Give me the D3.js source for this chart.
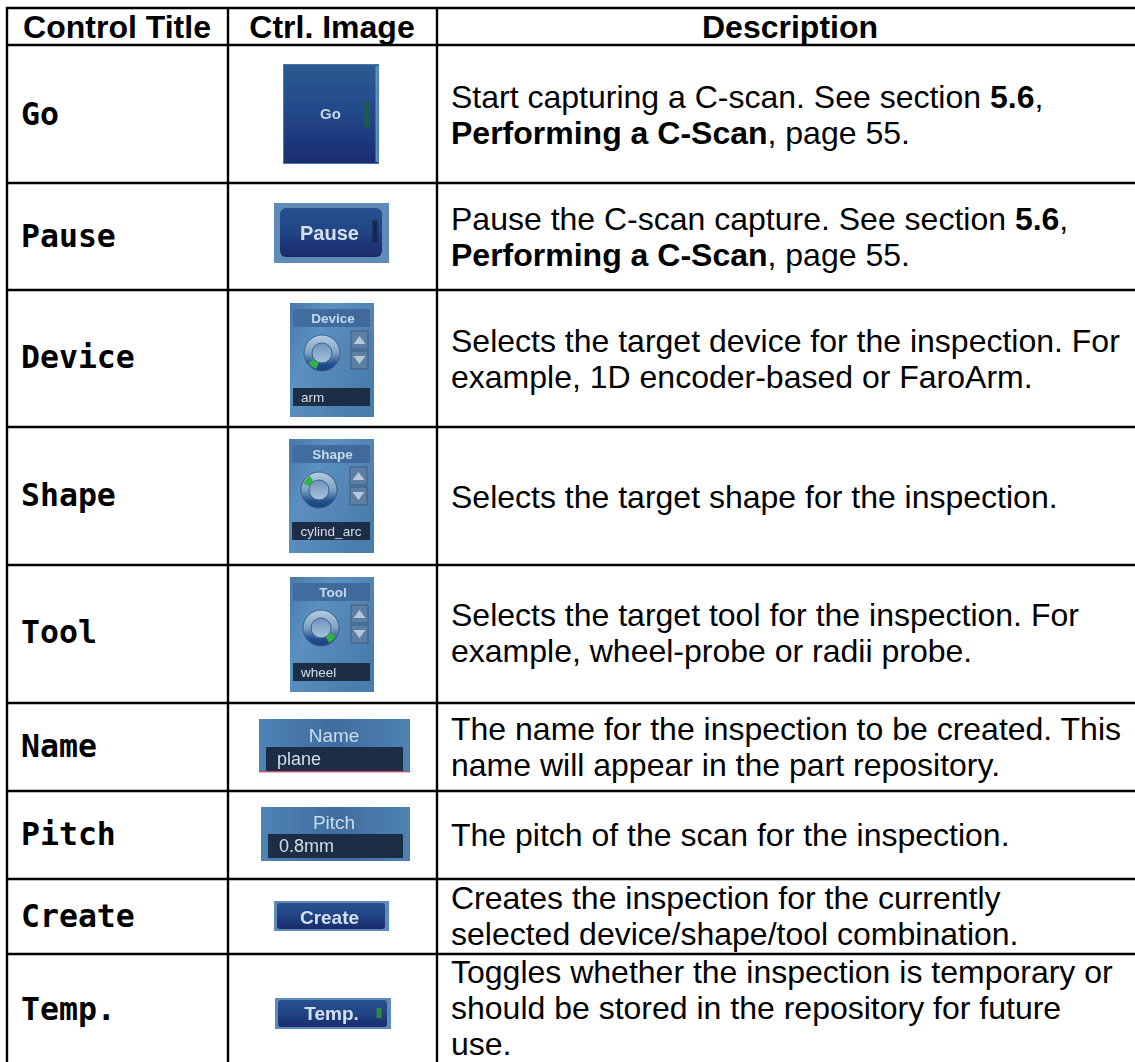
<!DOCTYPE html>
<html>
<head>
<meta charset="utf-8">
<script src="https://cdn.jsdelivr.net/npm/d3@7"></script>
<style>
body{margin:0;background:#fff;}
svg{display:block;}
</style>
</head>
<body>
<div id="root"></div>
<script>
// table content
var headers=['Control Title','Ctrl. Image','Description'];
var titles=['Go','Pause','Device','Shape','Tool','Name','Pitch','Create','Temp.'];
// * toggles bold
var descriptions=[
	['Start capturing a C-scan. See section *5.6*,','*Performing a C-Scan*, page 55.'],
	['Pause the C-scan capture. See section *5.6*,','*Performing a C-Scan*, page 55.'],
	['Selects the target device for the inspection. For','example, 1D encoder-based or FaroArm.'],
	['Selects the target shape for the inspection.'],
	['Selects the target tool for the inspection. For','example, wheel-probe or radii probe.'],
	['The name for the inspection to be created. This','name will appear in the part repository.'],
	['The pitch of the scan for the inspection.'],
	['Creates the inspection for the currently','selected device/shape/tool combination.'],
	['Toggles whether the inspection is temporary or','should be stored in the repository for future','use.']
];
var panelValues=['arm','cylind_arc','wheel'];
var fieldValues=['plane','0.8mm'];

// layout of the grid
var W=1135,H=1062;
var colEdges=[7,228,437,W];
var rowEdges=[8,45,183,290,427,565,703,791,879,954,H+10];
var titleBase=[125,247,368,506,643,757,845,927,1020];
var descBase=[108,230,352,508,626,740,846,909,983];
var lineStep=36;

var svg=d3.select('#root').append('svg').attr('width',W).attr('height',H);
var defs=svg.append('defs');

function grad(id,stops,x2,y2){
	var g=defs.append('linearGradient').attr('id',id).attr('x1',0).attr('y1',0).attr('x2',x2).attr('y2',y2);
	stops.forEach(function(s){g.append('stop').attr('offset',s[0]).attr('stop-color',s[1])});
}
grad('btn',[[0,'#2c5a92'],[.45,'#234a8a'],[1,'#1a2c72']],0,1);
grad('btnIn',[[0,'#28528f'],[.5,'#214384'],[1,'#1a2a6c']],0,1);
grad('panel',[[0,'#4a79a8'],[.35,'#5b90bf'],[1,'#4b7cae']],1,.6);
grad('band',[[0,'#3f6f9f'],[1,'#42689a']],1,0);
grad('wide',[[0,'#4f84b4'],[.5,'#3f6c9e'],[1,'#4f82b2']],1,0);
grad('ring',[[0,'#b5cde0'],[.5,'#7da2c4'],[.8,'#23508e'],[1,'#1b3f7a']],0,1);
grad('hub',[[0,'#6f93bb'],[1,'#a8c2dc']],0,1);
defs.append('filter').attr('id','soft').append('feGaussianBlur').attr('stdDeviation',.55);

var colX=d3.scaleOrdinal().domain(d3.range(3)).range(colEdges);
var rowY=d3.scaleOrdinal().domain(d3.range(rowEdges.length)).range(rowEdges);

// grid
var grid=svg.append('g').attr('stroke','#000').attr('stroke-width',2.4);
grid.selectAll('.h').data(rowEdges.slice(0,-1)).enter().append('line').attr('class','h')
	.attr('x1',colEdges[0]-1).attr('x2',W).attr('y1',function(d){return d}).attr('y2',function(d){return d});
grid.selectAll('.v').data(d3.range(3)).enter().append('line').attr('class','v')
	.attr('x1',function(d){return colX(d)}).attr('x2',function(d){return colX(d)})
	.attr('y1',rowEdges[0]-1).attr('y2',H);

// header
var headerMid=[117,332,790];
svg.selectAll('.head').data(headers).enter().append('text').attr('class','head')
	.attr('x',function(d,i){return headerMid[i]}).attr('y',38)
	.attr('text-anchor','middle')
	.style('font','bold 32px "Liberation Sans"').text(function(d){return d});

// first column
svg.selectAll('.title').data(titles).enter().append('text').attr('class','title')
	.attr('x',21).attr('y',function(d,i){return titleBase[i]})
	.style('font','bold 31.5px "DejaVu Sans Mono"').text(function(d){return d});

// last column
descriptions.forEach(function(lines,r){
	lines.forEach(function(line,l){
		var t=svg.append('text').attr('x',451).attr('y',descBase[r]+l*lineStep)
			.style('font','32px "Liberation Sans"');
		line.split('*').forEach(function(run,k){
			if(run){t.append('tspan').attr('font-weight',k%2?'bold':'normal').text(run)}
		});
	});
});

// control images, each one drawn in its own cell
function cell(r){
	var cx=(colEdges[1]+colEdges[2])/2, cy=(rowY(r+1)+rowY(r+2))/2;
	return svg.append('g').attr('transform','translate('+cx+','+cy+')').attr('filter','url(#soft)');
}
function label(g,s,x,y,size,weight,color,anchor){
	return g.append('text').attr('x',x).attr('y',y).attr('fill',color).attr('text-anchor',anchor||'middle')
		.style('font',(weight||'normal')+' '+size+'px "Liberation Sans"').text(s);
}
function rect(g,x,y,w,h,fill,rx){
	return g.append('rect').attr('x',x).attr('y',y).attr('width',w).attr('height',h).attr('fill',fill).attr('rx',rx||0);
}

function button(r,b,txt,size,tx,ty,led){
	var g=cell(r);
	rect(g,b.x,b.y,b.w,b.h,'#5f8bb8');
	rect(g,b.x+b.i,b.y+b.t,b.w-b.i-b.e,b.h-b.t-b.b,'url(#btnIn)',b.i);
	label(g,txt,tx,ty,size,'bold','#d3e0ee');
	if(led){rect(g,led[0],led[1],led[2],led[3],led[4])}
}

var go=cell(0);
rect(go,-49.5,-50,96,100,'#4d78ab');
rect(go,-48.5,-49,94,98,'url(#btn)');
rect(go,43,-48,2.5,96,'#5f8cbc');
label(go,'Go',-2,5,15,'bold','#c4d4e6');
rect(go,31,-12,6,25,'#1f5a52');

button(1,{x:-58.5,y:-33.5,w:115,h:60,i:6,e:7,t:5,b:6},'Pause',20,-3,3,[40,-16,5,22,'#16264e']);
button(7,{x:-58.5,y:-15.5,w:115,h:30,i:3,e:4,t:2,b:2},'Create',19,-3,7);
button(8,{x:-57.5,y:-15,w:116,h:31,i:3,e:4,t:2,b:2},'Temp.',19,-1,6.5,[44,-5,5,10,'#2f8a45']);

function dialPanel(r,b,name,value,center,field,marker,anchor,tx){
	var g=cell(r);
	rect(g,b.x,b.y,b.w,b.h,'url(#panel)');
	rect(g,b.x+3,b.y+6,b.w-7,18,'url(#band)');
	label(g,name,b.x+b.w/2+1,b.y+20,13.5,'bold','#c3daee');
	// dial
	g.append('circle').attr('cx',center[0]).attr('cy',center[1]).attr('r',18).attr('fill','url(#ring)').attr('stroke','#3b5f8c');
	g.append('circle').attr('cx',center[0]).attr('cy',center[1]).attr('r',10).attr('fill','url(#hub)').attr('stroke','#3d628f');
	g.append('path').attr('transform','translate('+center+')')
		.attr('d',d3.arc().innerRadius(10).outerRadius(17).startAngle(marker-.3).endAngle(marker+.3)())
		.attr('fill','#35b04a');
	// up and down arrows
	var bx=b.x+61;
	[0,20].forEach(function(dy,i){
		rect(g,bx,b.y+28+dy,17,18,'#5d7fa3').attr('stroke','#39506e').attr('stroke-width',.8);
		var ty=b.y+28+dy+9, ax=bx+8.5;
		g.append('path').attr('fill','#b6c8da')
			.attr('d',i==0?'M'+(ax-6)+','+(ty+4)+'L'+(ax+6)+','+(ty+4)+'L'+ax+','+(ty-4)+'Z'
				:'M'+(ax-6)+','+(ty-4)+'L'+(ax+6)+','+(ty-4)+'L'+ax+','+(ty+4)+'Z');
	});
	rect(g,b.x+3,field,b.w-7,18,'#1f2e45');
	label(g,value,tx,field+14,13.5,'normal','#d5dee8',anchor);
}
dialPanel(2,{x:-42.5,y:-55.5,w:84,h:114},'Device',panelValues[0],[-10.5,-5.5],29.5,Math.PI*1.2,'start',-31.5);
dialPanel(3,{x:-43.5,y:-57,w:85,h:114},'Shape',panelValues[1],[-13.5,-6],26,Math.PI*1.72,'middle',-1.5);
dialPanel(4,{x:-42.5,y:-57,w:84,h:115},'Tool',panelValues[2],[-11.5,-6],29,Math.PI*.75,'start',-31.5);

function fieldPanel(r,b,name,value,field,fh){
	var g=cell(r);
	rect(g,b.x,b.y,b.w,b.h,'url(#wide)');
	rect(g,b.x+7,field,b.w-14,fh,'#1f2e45');
	label(g,name,1.5,field-5.5,19,'normal','#c8deef');
	label(g,value,b.x+18,field+17.5,18,'normal','#d5dee8','start');
}
fieldPanel(5,{x:-73.5,y:-28,w:151,h:53},titles[5],fieldValues[0],0,25);
rect(svg.select('g:last-of-type'),-73.5,24,151,1.4,'#c05060');
fieldPanel(6,{x:-71.5,y:-28,w:149,h:54},titles[6],fieldValues[1],-1,24);
</script>
</body>
</html>
